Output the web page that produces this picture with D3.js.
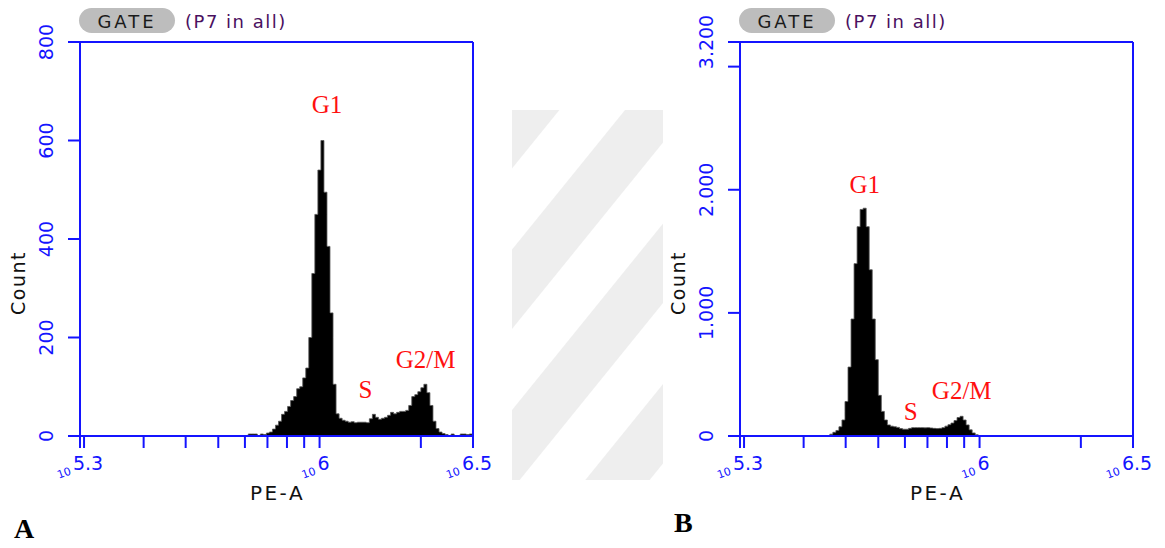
<!DOCTYPE html>
<html>
<head>
<meta charset="utf-8">
<script src="https://cdn.jsdelivr.net/npm/d3@7/dist/d3.min.js"></script>
<style>
  html, body { margin: 0; padding: 0; background: #fff; }
  svg { display: block; }
</style>
</head>
<body>
<svg id="chart" width="1165" height="548"></svg>
<script>
// ---- data -------------------------------------------------------------
// PE-A axis (log10 units)
const xDomainLog = [5.288, 6.456];
const xMajorTicks = [5.3, 6];              // plus the axis end, labelled rounded
const xMinorTicks = [3e5, 4e5, 5e5, 6e5, 7e5, 8e5, 9e5, 2e6];
const binWidthLog = 0.009;

// Panel A: counts per bin, starting at 10^5.788
const binStartA = 5.788;
const countsA = [
  4, 4, 4, 0, 4, 3, 6, 8, 14, 22, 30, 44, 50, 60, 72, 80, 96, 100, 118, 138,
  200, 330, 450, 540, 600, 495, 385, 250, 105, 45, 36, 32, 30, 28, 29, 27, 28, 28, 28, 27,
  35, 44, 38, 34, 36, 38, 42, 48, 45, 48, 50, 50, 52, 62, 80, 84, 90, 98, 105, 88,
  62, 30, 15, 8, 5, 3, 0, 4, 0, 0, 4, 4, 3, 4
];
const yTicksA = [0, 200, 400, 600, 800];
const yLabelsA = [0, 200, 400, 600, 800];
const yMaxA = 800;

// Panel B: counts per bin, starting at 10^5.555
const binStartB = 5.555;
const countsB = [
  15, 30, 45, 75, 130, 280, 560, 950, 1400, 1700, 1840, 1850, 1700, 1350, 950, 620, 330, 200, 130, 90,
  80, 75, 70, 60, 55, 55, 62, 68, 68, 68, 68, 66, 68, 65, 62, 60, 62, 68, 80, 92,
  105, 125, 150, 160, 130, 90, 50, 25, 10
];
const yTicksB = [0, 1000, 2000, 3000];
const yLabelsB = [0, 1000, 2000, 3200];
const yMaxB = 3200;

const phaseLabelsA = [
  { text: "G1",   x: 6.022, y: 655 },
  { text: "S",    x: 6.136, y: 78 },
  { text: "G2/M", x: 6.315, y: 138 }
];
const phaseLabelsB = [
  { text: "G1",   x: 5.659, y: 1970 },
  { text: "S",    x: 5.795, y: 128 },
  { text: "G2/M", x: 5.947, y: 302 }
];

// ---- drawing ----------------------------------------------------------
const svg = d3.select("#chart");
const BLUE = "#1414ff";
const PIX = "'DejaVu Sans', Verdana, sans-serif";
const SERIF = "'Liberation Serif', 'Times New Roman', serif";

// faint diagonal band decoration between the two panels
const defs = svg.append("defs");
const pat = defs.append("pattern")
  .attr("id", "bands").attr("patternUnits", "userSpaceOnUse")
  .attr("width", 101).attr("height", 101)
  .attr("patternTransform", "translate(625,110) rotate(39)");
pat.append("rect").attr("width", 50).attr("height", 101).attr("fill", "#eeeeee");
svg.append("rect").attr("x", 512).attr("y", 110).attr("width", 151).attr("height", 370)
  .attr("fill", "url(#bands)");

function panel(offset, binStart, counts, yMax, yTicks, yLabels, yFmt, phaseLabels, letter, letterY) {
  const g = svg.append("g").attr("transform", `translate(${offset},0)`);
  const left = 80, right = 473, top = 42, bottom = 436;

  const x = d3.scaleLinear().domain(xDomainLog).range([left, right]);
  const y = d3.scaleLinear().domain([0, yMax]).range([bottom, top]);

  // histogram (step area)
  const pts = counts.map((c, i) => [binStart + i * binWidthLog, c]);
  pts.push([binStart + counts.length * binWidthLog, counts[counts.length - 1]]);
  const clipId = "clip" + letter;
  g.append("clipPath").attr("id", clipId)
    .append("rect").attr("x", left).attr("y", top).attr("width", right - left).attr("height", bottom - top);
  g.append("path")
    .datum(pts)
    .attr("clip-path", `url(#${clipId})`)
    .attr("fill", "#000")
    .attr("stroke", "#555")
    .attr("stroke-width", 0.8)
    .attr("d", d3.area().curve(d3.curveStepAfter)
      .x(d => x(d[0])).y0(y(0)).y1(d => y(d[1])));

  const axisStyle = sel => sel.attr("stroke", BLUE).attr("stroke-width", 2).attr("fill", "none");

  // frame
  g.append("line").attr("x1", left - 12).attr("x2", right).attr("y1", top).attr("y2", top).call(axisStyle);
  g.append("line").attr("x1", left - 12).attr("x2", right).attr("y1", bottom).attr("y2", bottom).call(axisStyle);
  g.append("line").attr("x1", left).attr("x2", left).attr("y1", top).attr("y2", bottom + 12).call(axisStyle);
  g.append("line").attr("x1", right).attr("x2", right).attr("y1", top).attr("y2", bottom + 12).call(axisStyle);

  // y ticks
  g.selectAll(".yt").data(yTicks).enter().append("line")
    .attr("x1", left - 12).attr("x2", left).attr("y1", d => y(d)).attr("y2", d => y(d)).call(axisStyle);
  g.selectAll(".yl").data(yLabels).enter().append("text")
    .attr("transform", d => `translate(${left - 27},${y(d)}) rotate(-90)`)
    .attr("text-anchor", "middle")
    .attr("fill", BLUE).attr("font-family", PIX).attr("font-size", 19)
    .text(d => yFmt(d));

  // x ticks: major + minor share the same length
  const xt = xMajorTicks.concat(xMinorTicks.map(v => Math.log10(v)));
  g.selectAll(".xt").data(xt).enter().append("line")
    .attr("x1", d => x(d)).attr("x2", d => x(d)).attr("y1", bottom).attr("y2", bottom + 12).call(axisStyle);

  const xLabels = xMajorTicks.concat([xDomainLog[1]]);
  const lab = g.selectAll(".xl").data(xLabels).enter().append("g")
    .attr("transform", d => `translate(${x(d) + 4},470)`);
  lab.append("text")
    .attr("text-anchor", "middle")
    .attr("fill", BLUE).attr("font-family", PIX).attr("font-size", 19)
    .text(d => d3.format(".1~f")(d));
  lab.each(function(d) {
    const sel = d3.select(this);
    const w = sel.select("text").node().getComputedTextLength();
    sel.append("text")
      .attr("transform", `translate(${-w / 2 - 1},4) rotate(-20)`)
      .attr("text-anchor", "end")
      .attr("fill", BLUE).attr("font-family", PIX).attr("font-size", 11)
      .text("10");
  });

  // axis titles
  g.append("text").attr("x", (left + right) / 2 + 1).attr("y", 500)
    .attr("text-anchor", "middle").attr("fill", "#111")
    .attr("font-family", PIX).attr("font-size", 20).attr("letter-spacing", 2.5)
    .text("PE-A");
  g.append("text").attr("transform", "translate(25,283) rotate(-90)")
    .attr("text-anchor", "middle").attr("fill", "#111")
    .attr("font-family", PIX).attr("font-size", 19).attr("letter-spacing", 1.5)
    .text("Count");

  // gate badge
  g.append("rect").attr("x", 79).attr("y", 8).attr("width", 96).attr("height", 25)
    .attr("rx", 12.5).attr("fill", "#bdbdbd");
  g.append("text").attr("x", 127).attr("y", 28).attr("text-anchor", "middle")
    .attr("fill", "#1a1a1a").attr("font-family", PIX).attr("font-size", 18).attr("letter-spacing", 3)
    .text("GATE");
  g.append("text").attr("x", 185).attr("y", 28)
    .attr("fill", "#4a1060").attr("font-family", PIX).attr("font-size", 18).attr("letter-spacing", 1.5)
    .text("(P7 in all)");

  // phase labels
  g.selectAll(".ph").data(phaseLabels).enter().append("text")
    .attr("x", d => x(d.x)).attr("y", d => y(d.y))
    .attr("text-anchor", "middle").attr("fill", "#ff1010")
    .attr("font-family", SERIF).attr("font-size", 25)
    .text(d => d.text);

  // panel letter
  svg.append("text").attr("x", offset + 14).attr("y", letterY)
    .attr("fill", "#000").attr("font-family", SERIF).attr("font-weight", "bold").attr("font-size", 28)
    .text(letter);
}

const fmtA = d => String(d);
const fmtB = d => d === 0 ? "0" : d3.format(",")(d).replace(",", ".");

panel(0, binStartA, countsA, yMaxA, yTicksA, yLabelsA, fmtA, phaseLabelsA, "A", 538);
panel(660, binStartB, countsB, yMaxB, yTicksB, yLabelsB, fmtB, phaseLabelsB, "B", 532);
</script>
</body>
</html>
